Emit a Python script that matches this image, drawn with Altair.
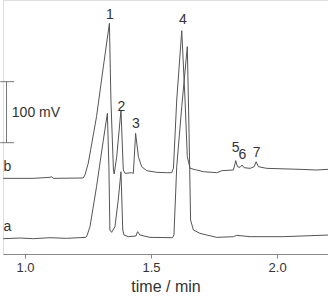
import altair as alt
import pandas as pd

# Trace b (upper chromatogram), time in min, signal in mV
b_time = [0.914, 1.033, 1.099, 1.106, 1.112, 1.231, 1.238, 1.251, 1.284, 1.311, 1.335,
          1.341, 1.351, 1.354, 1.364, 1.381, 1.390, 1.397, 1.423, 1.430, 1.439, 1.450,
          1.463, 1.483, 1.522, 1.562, 1.582, 1.589, 1.602, 1.622, 1.635, 1.644, 1.655,
          1.681, 1.708, 1.761, 1.781, 1.827, 1.836, 1.843, 1.853, 1.861, 1.869, 1.893,
          1.909, 1.917, 1.926, 1.959, 2.091, 2.157, 2.204]
b_signal = [97.8, 97.8, 99.5, 100.5, 97.8, 98.4, 103.3, 122.4, 198.9, 280.9, 351.9,
            226.2, 111.5, 104.9, 133.3, 209.8, 111.5, 106.0, 107.1, 106.0, 171.6, 133.3,
            116.9, 110.4, 107.7, 107.1, 107.1, 114.2, 226.2, 339.9, 226.2, 133.3, 114.2,
            111.5, 108.7, 107.1, 110.4, 111.5, 126.8, 116.9, 115.8, 119.7, 115.3, 114.2,
            116.9, 125.1, 116.9, 114.2, 112.6, 111.5, 112.6]

# Trace a (lower chromatogram)
a_time = [0.914, 0.980, 1.033, 1.099, 1.165, 1.242, 1.247, 1.258, 1.284, 1.311, 1.327,
          1.333, 1.337, 1.344, 1.357, 1.370, 1.381, 1.388, 1.393, 1.410, 1.440, 1.447,
          1.456, 1.496, 1.585, 1.591, 1.602, 1.622, 1.644, 1.651, 1.657, 1.668, 1.694,
          1.721, 1.761, 1.827, 1.840, 1.893, 2.025, 2.204]
a_signal = [-1.1, 0.0, -1.1, 0.5, -0.5, 1.1, 4.9, 18.6, 84.2, 160.7, 204.4,
            116.9, 13.1, 9.3, 18.6, 62.3, 108.7, 13.1, 4.9, 2.2, 3.3, 10.4,
            4.9, 1.1, 0.5, 4.9, 116.9, 215.3, 313.7, 171.6, 29.5, 13.1, 7.7,
            4.9, 1.1, 2.2, 4.4, 2.2, 2.2, 4.9]

# Peak / trace labels
label_text = ["1", "2", "3", "4", "5", "6", "7", "b", "a"]
label_time = [1.337, 1.383, 1.440, 1.626, 1.836, 1.862, 1.919, 0.930, 0.930]
label_signal = [365.6, 214.2, 186.9, 357.4, 148.1, 136.1, 138.8, 116.9, 18.6]

# Scale bar (100 mV)
bar_time = 0.927
bar_cap = [0.902, 0.957]
bar_lo, bar_hi = 156.3, 256.3
bar_label = "100 mV"
bar_label_time = 0.948
bar_label_signal = 204.4

x_domain = [0.913, 2.202]
y_domain = [-26.2, 390.2]
x_ticks = [1.0, 1.5, 2.0]

line_color = "#555555"
text_color = "#333333"

traces = pd.concat([
    pd.DataFrame({"time": b_time, "signal": b_signal, "trace": "b"}),
    pd.DataFrame({"time": a_time, "signal": a_signal, "trace": "a"}),
])
labels = pd.DataFrame({"time": label_time, "signal": label_signal, "text": label_text})

xs = alt.Scale(domain=x_domain, nice=False, zero=False)
ys = alt.Scale(domain=y_domain, nice=False, zero=False)

lines = alt.Chart(traces).mark_line(color=line_color, strokeWidth=1).encode(
    x=alt.X("time:Q", scale=xs, title="time / min",
            axis=alt.Axis(values=x_ticks, format=".1f", grid=False, domainColor="#888888",
                          tickColor="#888888", tickSize=4, labelFontSize=13,
                          labelColor=text_color, labelFont="Liberation Sans",
                          titleFont="Liberation Sans", titleFontSize=16,
                          titleFontWeight="normal", titleColor=text_color,
                          labelPadding=3, titlePadding=4)),
    y=alt.Y("signal:Q", scale=ys, axis=None),
    detail="trace:N",
)

text = alt.Chart(labels).mark_text(fontSize=14, font="Liberation Sans", color=text_color,
                                   baseline="middle", align="center").encode(
    x=alt.X("time:Q", scale=xs), y=alt.Y("signal:Q", scale=ys), text="text:N")

bar_df = pd.DataFrame({"time": [bar_time], "lo": [bar_lo], "hi": [bar_hi]})
bar = alt.Chart(bar_df).mark_rule(color="#777777", strokeWidth=1).encode(
    x=alt.X("time:Q", scale=xs), y=alt.Y("lo:Q", scale=ys), y2="hi:Q")

caps_df = pd.DataFrame({"t1": [bar_cap[0], bar_cap[0]], "t2": [bar_cap[1], bar_cap[1]],
                        "v": [bar_lo, bar_hi]})
caps = alt.Chart(caps_df).mark_rule(color="#777777", strokeWidth=1).encode(
    x=alt.X("t1:Q", scale=xs), x2="t2:Q", y=alt.Y("v:Q", scale=ys))

bar_text = alt.Chart(pd.DataFrame({"time": [bar_label_time], "signal": [bar_label_signal],
                                   "text": [bar_label]})).mark_text(
    fontSize=14, font="Liberation Sans", color=text_color, align="left", baseline="middle").encode(
    x=alt.X("time:Q", scale=xs), y=alt.Y("signal:Q", scale=ys), text="text:N")

chart = alt.layer(lines, text, bar, caps, bar_text).properties(
    width=325, height=254,
    padding={"left": 3, "top": 0, "right": 0, "bottom": 42},
    autosize=alt.AutoSizeParams(type="none"),
).configure_view(stroke=None).configure(background="white")

chart.save("out.html", embed_options={"renderer": "svg", "actions": False})
